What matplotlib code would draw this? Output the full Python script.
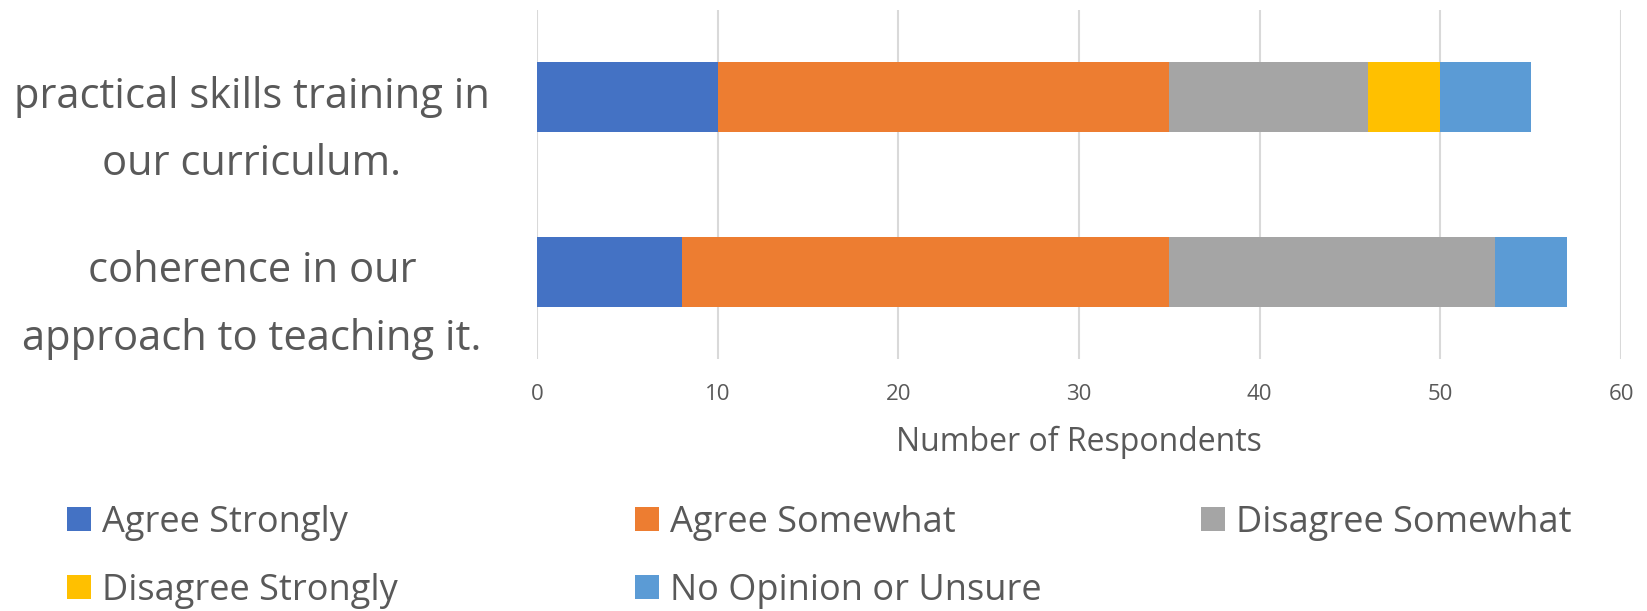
import matplotlib
matplotlib.use("Agg")
import matplotlib.pyplot as plt
from matplotlib.patches import Patch
from matplotlib.transforms import blended_transform_factory

# data
questions = ["practical skills training in\nour curriculum.",
             "coherence in our\napproach to teaching it."]
categories = ["Agree Strongly", "Agree Somewhat", "Disagree Somewhat",
              "Disagree Strongly", "No Opinion or Unsure"]
agree_strongly = [10, 8]
agree_somewhat = [25, 27]
disagree_somewhat = [11, 18]
disagree_strongly = [4, 0]
no_opinion = [5, 4]
colors = ["#4472C4", "#ED7D31", "#A5A5A5", "#FFC000", "#5B9BD5"]
xticks = [0, 10, 20, 30, 40, 50, 60]

txt = "#595959"
plt.rcParams['font.family'] = ['Open Sans', 'DejaVu Sans']

fig = plt.figure(figsize=(16.47, 6.11), dpi=100)
ax = fig.add_axes([537/1647, 1 - 359/611, (1621-537)/1647, 349/611])

ypos = [1, 0]
series = [agree_strongly, agree_somewhat, disagree_somewhat, disagree_strongly, no_opinion]
left = [0, 0]
for vals, c, name in zip(series, colors, categories):
    ax.barh(ypos, vals, left=left, height=0.4, color=c, label=name, zorder=3)
    left = [l + v for l, v in zip(left, vals)]

ax.set_xlim(0, 60)
ax.set_ylim(-0.5, 1.5)
ax.set_xticks(xticks)
ax.set_xticklabels([str(t) for t in xticks], fontsize=16, color=txt)
ax.tick_params(axis='x', length=0, pad=18)
ax.set_yticks([])
ax.grid(axis='x', color='#d9d9d9', linewidth=1.5, zorder=0)
for s in ax.spines.values():
    s.set_visible(False)
ax.set_xlabel("Number of Respondents", fontsize=23, color=txt, labelpad=15)

# category labels, centred left of the axis, a bit below the bar centre
tr = blended_transform_factory(fig.transFigure, ax.transData)
for y, q in zip(ypos, questions):
    fig.text(252/1647, y - 0.19, q, ha='center', va='center', fontsize=30,
             color=txt, linespacing=1.8, transform=tr)

# legend: three separate columns
handles = [Patch(facecolor=c, label=n) for c, n in zip(colors, categories)]
cols = [([handles[0], handles[3]], 67), ([handles[1], handles[4]], 635), ([handles[2]], 1201)]
for hs, x in cols:
    fig.legend(handles=hs, loc='upper left', bbox_to_anchor=(x/1647, 1 - 505/611),
               frameon=False, fontsize=26, labelcolor=txt, handlelength=0.66,
               handleheight=0.66, handletextpad=0.3, labelspacing=0.88,
               borderpad=0, borderaxespad=0)

fig.savefig("out.png", dpi=100, facecolor='white')
